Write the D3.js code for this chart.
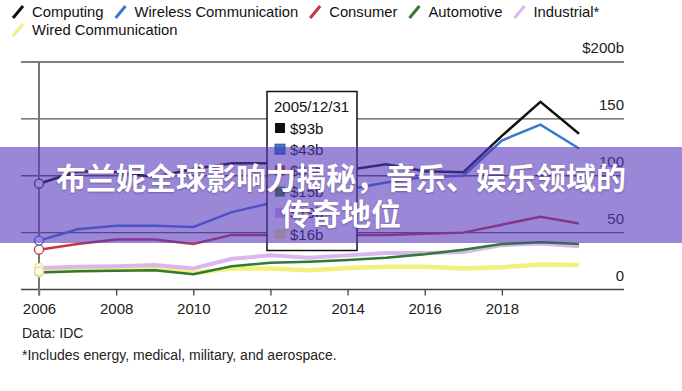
<!DOCTYPE html>
<html><head><meta charset="utf-8">
<script src="https://cdn.jsdelivr.net/npm/d3@7"></script>
<style>
body{margin:0;background:#fff;}
svg{display:block;font-family:"Liberation Sans",Arial,sans-serif;}
</style></head>
<body><svg id="c" width="682" height="391"></svg>
<script>
const years = [2006,2007,2008,2009,2010,2011,2012,2013,2014,2015,2016,2017,2018,2019,2020];
const computing  = [93,104,103,99,106,111,111,108,105,110,104,103,135,165,137];
const wireless   = [43,53,56,56,55,68,76,82,88,94,99,100,131,145,124];
const consumer   = [35,40,44,44,40,48,48,48,48,48,49,50,57,64,58];
const automotive = [15,16,16.5,17,13.5,20.5,23.5,24.5,26,28,31,35,40,41.5,40];
const industrial = [19,20,20.5,21.5,18.5,27,30,28,30,32,32,33,39,40.5,38];
const wired      = [16,17,17.5,18,14.5,18.5,18.5,17,19,20,20,18.5,19.5,22,21.5];
const seriesNames = ["Computing","Wireless Communication","Consumer","Automotive","Industrial*","Wired Communication"];
const seriesColors = ["#111111","#3a7acb","#c4373c","#317a31","#d9b6ee","#f3f07e"];
const seriesWidths = [2.5,2.5,2.5,2.5,4,4.5];
const yTicks = [0,50,100,150,200];
const xTicks = [2006,2008,2010,2012,2014,2016,2018];
const tipDate = "2005/12/31";
const tipValues = [93,43,35,15,19,16];
const titleLines = ["布兰妮全球影响力揭秘，音乐、娱乐领域的","传奇地位"];

const allSeries = [computing,wireless,consumer,automotive,industrial,wired];
const svg = d3.select("#c");
const x = d3.scaleLinear().domain([2006,2020]).range([39,579]);
const y = d3.scaleLinear().domain([0,200]).range([289.5,62]);

// gridlines
svg.append("g").selectAll("line").data(yTicks.filter(d=>d>0)).join("line")
  .attr("x1",21).attr("x2",624).attr("y1",d=>y(d)).attr("y2",d=>y(d))
  .attr("stroke","#555").attr("stroke-width",1.3);
// y labels
svg.append("g").selectAll("text").data(yTicks).join("text")
  .attr("x",624).attr("y",d=>y(d)-9).attr("text-anchor","end")
  .attr("font-size",15).attr("fill","#222")
  .text(d=>d===200?"$200b":d);
// x axis
const xAxis = d3.axisBottom(x).tickValues(xTicks).tickFormat(d3.format("d")).tickSize(6).tickPadding(8);
const gx = svg.append("g").attr("transform",`translate(0,${y(0)})`).call(xAxis);
gx.select(".domain").remove();
gx.selectAll(".tick line").attr("stroke","#444").attr("stroke-width",1.3);
gx.selectAll(".tick text").attr("font-size",15).attr("fill","#222").attr("font-family","Liberation Sans, Arial, sans-serif");
svg.append("line").attr("x1",21).attr("x2",624).attr("y1",y(0)).attr("y2",y(0))
  .attr("stroke","#444").attr("stroke-width",1.3);

// cursor line
svg.append("line").attr("x1",x(2006)).attr("x2",x(2006)).attr("y1",y(200)).attr("y2",y(0)+6)
  .attr("stroke","#777").attr("stroke-width",2);

// lines
const line = d3.line().x((d,i)=>x(years[i])).y(d=>y(d));
[5,4,3,2,1,0].forEach(k=>{
  svg.append("path").datum(allSeries[k]).attr("d",line).attr("fill","none")
    .attr("stroke",seriesColors[k]).attr("stroke-width",seriesWidths[k])
    .attr("stroke-linejoin","miter");
});
[3,2,1,0,4,5].forEach(k=>{
  svg.append("circle").attr("cx",x(years[0])).attr("cy",y(allSeries[k][0])).attr("r",4.5)
    .attr("fill",k>=3?"#fbfbe6":"#fff")
    .attr("stroke",k===0?"#333":(k>=3?"#e2dc9a":seriesColors[k])).attr("stroke-width",1.3);
});

// legend
const legend = svg.append("g");
let lx = 13, ly = 12;
seriesNames.forEach((n,i)=>{
  if(i===5){ lx = 13; ly = 30; }
  const g = legend.append("g");
  g.append("line").attr("x1",lx).attr("x2",lx+10).attr("y1",ly+6).attr("y2",ly-6)
    .attr("stroke",seriesColors[i]).attr("stroke-width",3).attr("stroke-linecap","butt");
  const t = g.append("text").attr("x",lx+19).attr("y",ly+5).attr("font-size",14.8)
    .attr("fill","#111").text(n);
  lx = lx + 19 + t.node().getComputedTextLength() + 12;
});

// tooltip
const tip = svg.append("g");
tip.append("rect").attr("x",267).attr("y",91.5).attr("width",90).attr("height",159)
  .attr("fill","#fff").attr("stroke","#111").attr("stroke-width",1.5);
tip.append("text").attr("x",274).attr("y",112).attr("font-size",15).attr("fill","#111").text(tipDate);
tipValues.forEach((v,i)=>{
  const cy = 128 + i*21.2;
  tip.append("rect").attr("x",275).attr("y",cy-5).attr("width",10).attr("height",10)
    .attr("fill",seriesColors[i]).attr("stroke",i===1?"#2a55a0":"none");
  tip.append("text").attr("x",290).attr("y",cy+5.5).attr("font-size",15).attr("fill","#111").text("$"+v+"b");
});

// footer
svg.append("text").attr("x",22).attr("y",338).attr("font-size",14).attr("fill","#222").text("Data: IDC");
svg.append("text").attr("x",22).attr("y",360).attr("font-size",14).attr("fill","#222")
  .text("*Includes energy, medical, military, and aerospace.");

// title overlay
svg.append("rect").attr("x",0).attr("y",147).attr("width",682).attr("height",96)
  .attr("fill","rgb(88,55,190)").attr("fill-opacity",0.6);
const tt = svg.append("g").attr("font-family","'Noto Sans CJK SC', sans-serif")
  .attr("font-weight",700).attr("font-size",30).attr("fill","#fff").attr("text-anchor","middle")
  .style("text-shadow","0 1px 2px rgba(0,0,0,0.3)");
titleLines.forEach((l,i)=>{
  tt.append("text").attr("x",341).attr("y",189 + i*36).text(l);
});
</script></body></html>
